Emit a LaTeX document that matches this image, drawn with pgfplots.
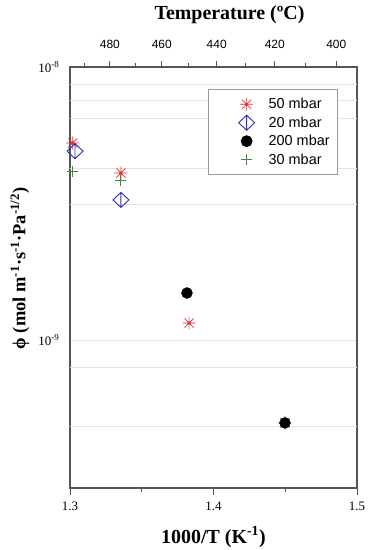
\documentclass[border=0pt]{standalone}
\usepackage{pgfplots}
\pgfplotsset{compat=1.18}
\usepackage{fontspec}
\setmainfont{Liberation Serif}
\newfontfamily\sansf{Liberation Sans}

\definecolor{axgray}{RGB}{85,85,85}
\definecolor{gridgray}{RGB}{228,228,228}
\definecolor{mred}{RGB}{222,52,52}
\definecolor{mblue}{RGB}{45,45,190}
\definecolor{mgreen}{RGB}{60,140,60}

% eight-armed asterisk with a small dot in the middle
\pgfdeclareplotmark{ast8}{%
  \pgfpathmoveto{\pgfqpoint{-\pgfplotmarksize}{0pt}}\pgfpathlineto{\pgfqpoint{\pgfplotmarksize}{0pt}}%
  \pgfpathmoveto{\pgfqpoint{0pt}{-\pgfplotmarksize}}\pgfpathlineto{\pgfqpoint{0pt}{\pgfplotmarksize}}%
  \pgfpathmoveto{\pgfqpoint{-.707\pgfplotmarksize}{-.707\pgfplotmarksize}}\pgfpathlineto{\pgfqpoint{.707\pgfplotmarksize}{.707\pgfplotmarksize}}%
  \pgfpathmoveto{\pgfqpoint{-.707\pgfplotmarksize}{.707\pgfplotmarksize}}\pgfpathlineto{\pgfqpoint{.707\pgfplotmarksize}{-.707\pgfplotmarksize}}%
  \pgfusepathqstroke
  \pgfpathcircle{\pgfpointorigin}{.2\pgfplotmarksize}\pgfusepathqfillstroke
}
% diamond with a vertical bar
\pgfdeclareplotmark{diabar}{%
  \pgfpathmoveto{\pgfqpoint{0pt}{.94\pgfplotmarksize}}%
  \pgfpathlineto{\pgfqpoint{\pgfplotmarksize}{0pt}}%
  \pgfpathlineto{\pgfqpoint{0pt}{-.94\pgfplotmarksize}}%
  \pgfpathlineto{\pgfqpoint{-\pgfplotmarksize}{0pt}}%
  \pgfpathclose
  \pgfpathmoveto{\pgfqpoint{0pt}{.94\pgfplotmarksize}}%
  \pgfpathlineto{\pgfqpoint{0pt}{-.94\pgfplotmarksize}}%
  \pgfusepathqstroke
}

\pgfplotsset{
  legimg/.style={legend image code/.code={
    \path[draw=none,fill=none] (0bp,-4bp) rectangle (52bp,4bp);
    \draw[##1] plot coordinates {(32bp,0bp)};}},
}

\begin{document}
\begin{tikzpicture}
\begin{axis}[
  name=ax,
  scale only axis, width=287bp, height=421bp,
  xmin=1.3, xmax=1.5,
  ymode=log, ymin=2.87e-10, ymax=1e-8,
  axis line style={draw=axgray, line width=1.5bp},
  tick align=outside,
  xtick pos=bottom, ytick pos=left,
  xtick={1.3,1.4,1.5}, xticklabels={1.3,1.4,1.5},
  minor xtick={1.35,1.45},
  major tick length=7bp, minor tick length=4bp,
  x tick style={draw=axgray, line width=1bp},
  xticklabel style={yshift=-3bp},
  ytick={1e-9,1e-8},
  yticklabels={{10\textsuperscript{-9}},{10\textsuperscript{-8}}},
  minor ytick={},
  y tick style={draw=none},
  ymajorgrids,
  extra y ticks={8.66e-9,7.57e-9,6.50e-9,4.27e-9,3.15e-9,7.96e-10,4.84e-10},
  extra y tick labels={},
  extra y tick style={grid=major, y tick style={draw=none}},
  major grid style={draw=gridgray, line width=0.8bp},
  tick label style={font=\fontsize{13}{15}\selectfont},
  xlabel={\textbf{1000/T (K\textsuperscript{-1})}},
  xlabel style={font=\fontsize{20}{23}\selectfont, at={(axis description cs:0.5,0)}, anchor=center, yshift=-49bp},
  ylabel={\textbf{ϕ (mol m\textsuperscript{-1}·s\textsuperscript{-1}·Pa\textsuperscript{-1/2})}},
  ylabel style={font=\fontsize{18.5}{21}\selectfont, at={(axis description cs:-0.174,0.522)}, anchor=center},
  legend cell align=left,
  legend style={at={(0.934,0.948)}, anchor=north east, draw=gray!80, line width=0.8bp,
    font=\sansf\fontsize{14.5}{17}\selectfont, row sep=2.5bp, inner xsep=6bp, inner ysep=7bp},
]
\addplot[only marks, legimg, mark=ast8, mark size=6.5bp, draw=mred, fill=mred, line width=0.7bp]
  coordinates {(1.3019,5.27e-9) (1.3355,4.09e-9) (1.3830,1.154e-9) (1.4498,4.97e-10)};
\addlegendentry{50 mbar}
\addplot[only marks, legimg, mark=diabar, mark size=8bp, draw=mblue, line width=0.9bp]
  coordinates {(1.3035,4.92e-9) (1.3355,3.26e-9)};
\addlegendentry{20 mbar}
\addplot[only marks, legimg, mark=*, mark size=5.5bp, draw=black, fill=black]
  coordinates {(1.3815,1.487e-9) (1.4498,4.97e-10)};
\addlegendentry{200 mbar}
\addplot[only marks, legimg, mark=+, mark size=5.5bp, draw=mgreen, line width=0.9bp]
  coordinates {(1.3019,4.16e-9) (1.3355,3.855e-9)};
\addlegendentry{30 mbar}
\end{axis}
\begin{axis}[
  scale only axis, width=287bp, height=421bp,
  xmin=1.3, xmax=1.5, ymin=0, ymax=1,
  axis x line*=top, axis y line=none,
  axis line style={draw=axgray, line width=1.5bp, -},
  tick align=outside,
  xtick={1.32776,1.36398,1.40223,1.44269,1.48555},
  xticklabels={480,460,440,420,400},
  minor xtick={1.31036,1.34562,1.38284,1.42218,1.46381},
  major tick length=6bp, minor tick length=4bp,
  x tick style={draw=axgray, line width=1bp},
  tick label style={font=\sansf\fontsize{12}{14}\selectfont},
  xticklabel style={yshift=9bp},
  xlabel={\textbf{Temperature (ºC)}},
  xlabel style={font=\fontsize{20}{23}\selectfont, at={(axis description cs:0.5,1)}, anchor=center, yshift=52bp, xshift=16bp},
]
\end{axis}
\pgfresetboundingbox
\path ([shift={(-70bp,-62bp)}]ax.south west) rectangle ([shift={(12bp,67bp)}]ax.north east);
\end{tikzpicture}
\end{document}
